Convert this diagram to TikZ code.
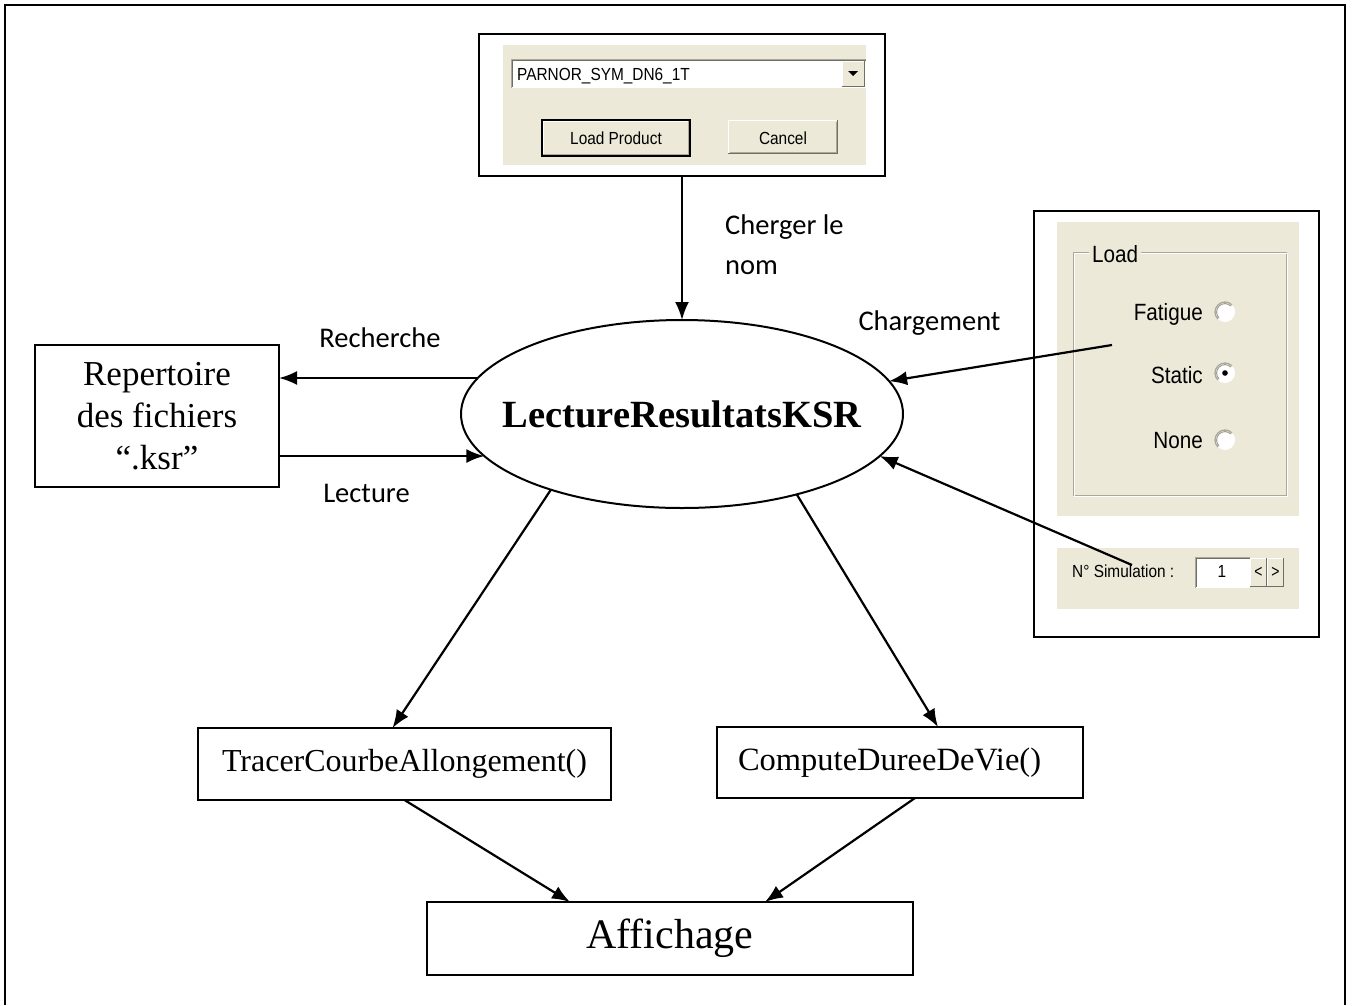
\documentclass[tikz,border=0pt]{standalone}
\usepackage{fontspec}
\setmainfont{Liberation Serif}
\newfontfamily\calibfont{Carlito}
\newfontfamily\guifont{Liberation Sans}
\usetikzlibrary{arrows.meta,shapes.geometric,calc}
\definecolor{winface}{HTML}{ECE9D8}
\definecolor{winshadow}{HTML}{ACA899}
\definecolor{windark}{HTML}{716F64}
\begin{document}
\begin{tikzpicture}[x=1pt,y=-1pt,
  box/.style={draw, line width=2pt, inner sep=0pt, outer sep=0pt},
  conn/.style={line width=2.2pt, -{Latex[length=18pt,width=14pt]}},
  lbl/.style={font=\calibfont\fontsize{28.5}{34}\selectfont, inner sep=0pt},
  gui/.style={font=\guifont\fontsize{17.5}{20}\selectfont, inner sep=0pt},
  guibig/.style={font=\guifont\fontsize{23.5}{26}\selectfont, inner sep=0pt},
]
\useasboundingbox (0,0) rectangle (1352,1005);
\fill[white] (0,0) rectangle (1352,1005);
% page frame, open at the bottom
\draw[line width=2.8pt] (5,1005) -- (5,5) -- (1345,5) -- (1345,1005);

% ---------- main nodes ----------
\node[box, shape=ellipse, minimum width=442pt, minimum height=188pt,
      font=\bfseries\fontsize{38.5}{40}\selectfont] (ell) at (682,414)
      {\makebox[0pt]{LectureResultatsKSR}};
\node[box, minimum width=244pt, minimum height=142pt, align=center,
      font=\fontsize{35}{42}\selectfont] (rep) at (157,416)
      {Repertoire\\des fichiers\\“.ksr”};
\node[box, minimum width=413pt, minimum height=72pt,
      font=\fontsize{32}{36}\selectfont] (tracer) at (404.5,764)
      {TracerCourbeAllongement()};
\node[box, minimum width=366pt, minimum height=71pt, text width=324pt,
      inner xsep=21pt, align=left, font=\fontsize{32.5}{36}\selectfont]
      (compute) at (900,762.5) {ComputeDureeDeVie()};
\node[box, minimum width=486pt, minimum height=73pt,
      font=\fontsize{42}{46}\selectfont] (aff) at (670,938.5) {Affichage};

% ---------- product selection dialog ----------
\node[box, line width=2.2pt, minimum width=406pt, minimum height=142pt] (dlg) at (682,105) {};
\fill[winface] (503,45) rectangle (866,165);
% combo box
\fill[white] (511,59) rectangle (866,88);
\draw[winshadow, line width=1pt] (511.5,88) -- (511.5,59.5) -- (866,59.5);
\draw[windark, line width=1pt] (512.5,87) -- (512.5,60.5) -- (866,60.5);
\node[gui, anchor=base west] (combotxt) at (517,80) {\scalebox{0.88}[1]{PARNOR\_SYM\_DN6\_1T}};
\fill[winface] (842,61) rectangle (865,87);
\draw[white, line width=1pt] (842.5,86) -- (842.5,61.5) -- (864,61.5);
\draw[windark, line width=1pt] (842,86.5) -- (864.5,86.5) -- (864.5,61);
\fill (848,71) -- (858,71) -- (853,76) -- cycle;
% Load Product button (default button, black outline)
\fill[winface] (541,119) rectangle (691,157);
\draw[white, line width=1pt] (543.5,154) -- (543.5,121.5) -- (688,121.5);
\draw[winshadow, line width=1pt] (543,154.5) -- (688.5,154.5) -- (688.5,121);
\draw[black, line width=1.6pt] (541.8,119.8) rectangle (690.2,156.2);
\node[gui, anchor=base] (btnload) at (616,144) {\scalebox{0.88}[1]{Load Product}};
% Cancel button
\fill[winface] (728,120) rectangle (838,154);
\draw[white, line width=1pt] (728.5,153) -- (728.5,120.5) -- (837,120.5);
\draw[windark, line width=1pt] (728,153.5) -- (837.5,153.5) -- (837.5,120);
\draw[winshadow, line width=1pt] (729.5,152.5) -- (836.5,152.5) -- (836.5,121.5);
\node[gui, anchor=base] (btncancel) at (783,144) {\scalebox{0.88}[1]{Cancel}};

% ---------- load type panel ----------
\node[box, line width=2.2pt, minimum width=285pt, minimum height=426pt] (simpanel) at (1176.5,424) {};
\fill[winface] (1057,222) rectangle (1299,516);
\draw[winshadow, line width=1pt] (1073.5,252.5) rectangle (1286.5,495.5);
\draw[white, line width=1pt] (1074.5,253.5) rectangle (1287.5,496.5);
\node[guibig, fill=winface, inner xsep=3pt, anchor=base west] (loadlbl) at (1089,262) {\scalebox{0.88}[1]{Load}};
\node[guibig, anchor=base east] (optfat) at (1203,320) {\scalebox{0.88}[1]{Fatigue}};
\node[guibig, anchor=base east] (optsta) at (1203,383) {\scalebox{0.88}[1]{Static}};
\node[guibig, anchor=base east] (optnon) at (1203,448) {\scalebox{0.88}[1]{None}};
\foreach \ry in {312,373,440}{
  \fill[white] (1225,\ry) circle (10);
  \draw[winshadow, line width=1.3pt] (1225,\ry) ++(135:10) arc (135:315:10);
  \draw[windark!70, line width=1pt] (1225,\ry) ++(135:8.4) arc (135:315:8.4);
}
\fill (1225,373) circle (2.8);
% simulation counter
\fill[winface] (1057,548) rectangle (1299,609);
\node[gui, anchor=base west] (simlbl) at (1072,577) {\scalebox{0.88}[1]{N° Simulation :}};
\fill[white] (1195,557) rectangle (1250,588);
\draw[winshadow, line width=1pt] (1195.5,588) -- (1195.5,557.5) -- (1250,557.5);
\draw[windark, line width=1pt] (1196.5,587) -- (1196.5,558.5) -- (1250,558.5);
\node[gui, anchor=base] (simval) at (1222,577) {\scalebox{0.88}[1]{1}};
\foreach \sx in {1250,1267}{
  \fill[winface] (\sx,558) rectangle ++(17,29);
  \draw[white, line width=1pt] (\sx+0.5,586) -- (\sx+0.5,558.5) -- (\sx+16,558.5);
  \draw[windark, line width=1pt] (\sx,586.5) -- (\sx+16.5,586.5) -- (\sx+16.5,558);
}
\node[gui, anchor=center] (spinl) at (1258.5,572) {\scalebox{0.8}[1]{<}};
\node[gui, anchor=center] (spinr) at (1275.5,572) {\scalebox{0.8}[1]{>}};

% ---------- free ends of the panel connectors ----------
\coordinate (loadpick) at (1112,345);
\coordinate (simpick) at (1132,565);

% ---------- connectors ----------
\draw[conn] (dlg.south) -- (ell.north);
\draw[conn] (ell.170) -- (ell.170 -| rep.east);
\draw[conn] (ell.192 -| rep.east) -- (ell.192);
\draw[conn] (loadpick) -- (ell.9);
\draw[conn] (simpick) -- (ell.348);
\draw[conn] (ell.210) -- ([xshift=-12pt]tracer.north);
\draw[conn] (ell.325) -- ([xshift=38pt]compute.north);
\draw[conn] (tracer.south) -- ([xshift=-100pt]aff.north);
\draw[conn] ([xshift=15pt]compute.south) -- ([xshift=95pt]aff.north);

% ---------- connector labels ----------
\node[lbl, anchor=base] (lrech) at (380,347) {Recherche};
\node[lbl, anchor=base] (llect) at (366.5,502) {Lecture};
\node[lbl, anchor=west, align=left, font=\calibfont\fontsize{28.5}{40}\selectfont] (lnom) at (725,244.5) {Cherger le\\nom};
\node[lbl, anchor=base] (lchg) at (929.5,330) {Chargement};
\end{tikzpicture}
\end{document}
